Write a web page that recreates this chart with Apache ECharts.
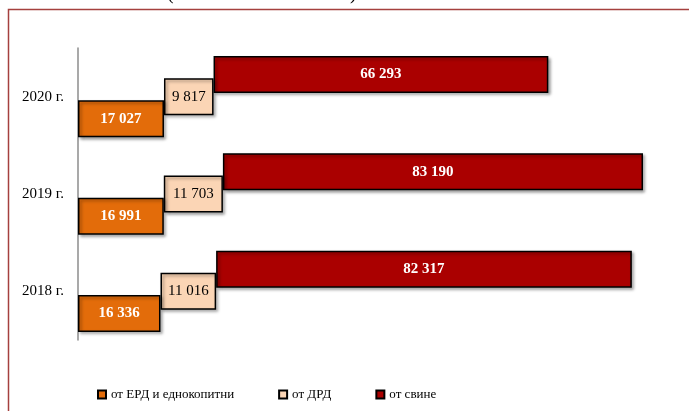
<!DOCTYPE html>
<html><head><meta charset="utf-8">
<script src="https://cdn.jsdelivr.net/npm/echarts@6/dist/echarts.min.js"></script>
<style>html,body{margin:0;padding:0;background:#fff}#c{width:689px;height:411px}</style>
</head><body><div id="c"></div>
<script>
const categories = ['2018 г.', '2019 г.', '2020 г.'];
const erd = [16336, 16991, 17027];
const drd = [11016, 11703, 9817];
const pigs = [82317, 83190, 66293];
const seriesNames = ['от ЕРД и еднокопитни', 'от ДРД', 'от свине'];

const base1 = erd.slice();
const base2 = erd.map((v, i) => v + drd[i]);
const fmt = v => String(v).replace(/\B(?=(\d{3})+(?!\d))/g, ' ');
const FONT = '"Liberation Serif", "Times New Roman", serif';
const shadow = {borderColor: '#000', borderWidth: 1.5, shadowBlur: 3, shadowOffsetX: 2, shadowOffsetY: 2, shadowColor: 'rgba(0,0,0,0.35)'};
const common = {type: 'bar', barWidth: 37, barGap: '-40%', animation: false};
const helper = (stack, data) => Object.assign({}, common, {name: '_h' + stack, stack, data, itemStyle: {color: 'transparent'}, silent: true, label: {show: false}});
const real = (name, stack, data, color, labelColor, bold) => Object.assign({}, common, {
  name, stack, data,
  itemStyle: Object.assign({color}, shadow),
  label: {show: true, position: 'inside', color: labelColor, fontFamily: FONT, fontSize: 15, fontWeight: bold ? 'bold' : 'normal', formatter: p => fmt(p.value)}
});

const chart = echarts.init(document.getElementById('c'), null, {renderer: 'canvas'});
chart.setOption({
  backgroundColor: '#fff',
  animation: false,
  grid: {left: 78, top: 48, width: 606, height: 292, containLabel: false},
  xAxis: {type: 'value', min: 0, max: 120000, show: false},
  yAxis: {type: 'category', data: categories,
    axisLine: {lineStyle: {color: '#8c8c8c', width: 1.5}}, axisTick: {show: false},
    axisLabel: {color: '#000', fontFamily: FONT, fontSize: 15, margin: 14}},
  legend: {data: seriesNames, bottom: 5, left: 92, itemWidth: 8, itemHeight: 8, itemGap: 44,
    icon: 'rect', textStyle: {fontFamily: FONT, fontSize: 13, color: '#000'}},
  graphic: [
    {type: 'rect', shape: {x: 8.5, y: 9.5, width: 720, height: 440}, style: {fill: 'none', stroke: '#A5403E', lineWidth: 1.5}, silent: true},
    {type: 'text', x: 167, y: -16, style: {text: '(', fontFamily: FONT, fontSize: 20, fill: '#000'}},
    {type: 'text', x: 350, y: -16, style: {text: ')', fontFamily: FONT, fontSize: 20, fill: '#000'}}
  ],
  series: [
    helper('c', base2),
    real(seriesNames[2], 'c', pigs, '#AA0000', '#fff', true),
    helper('b', base1),
    real(seriesNames[1], 'b', drd, '#FBD5B5', '#000', false),
    real(seriesNames[0], 'a', erd, '#E36C0A', '#fff', true)
  ]
});
</script></body></html>
